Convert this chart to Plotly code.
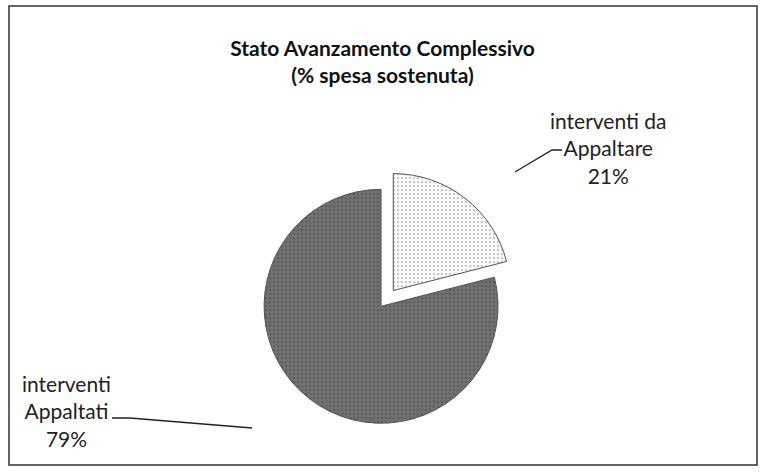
import plotly.graph_objects as go

labels = ["interventi da Appaltare", "interventi Appaltati"]
label_lines = [["interventi da", "Appaltare"], ["interventi", "Appaltati"]]
values = [21, 79]
title_lines = ["Stato Avanzamento Complessivo", "(% spesa sostenuta)"]

total = sum(values)
pcts = [round(v / total * 100) for v in values]

FONT = "Lato, 'Open Sans', sans-serif"
W, H = 765, 472


def px(x):
    return x / W


def py(y):
    return 1 - y / H


fig = go.Figure()
fig.add_trace(go.Pie(
    labels=labels,
    values=values,
    sort=False,
    direction="clockwise",
    rotation=0,
    pull=[0.15, 0.02],
    textinfo="none",
    hoverinfo="label+percent",
    marker=dict(
        colors=["#f4f4f4", "#6a6a6a"],
        line=dict(color="#555555", width=1),
        pattern=dict(shape=[".", "."], fgcolor=["#9a9a9a", "#4e4e4e"],
                     bgcolor=["#fafafa", "#707070"], size=4, solidity=0.15),
    ),
    domain=dict(x=[0.15, 0.85], y=[0.07, 0.64]),
    showlegend=False,
))

fig.add_annotation(
    text="<br>".join(label_lines[0] + [f"{pcts[0]}%"]),
    x=px(608), y=py(148), xref="paper", yref="paper", showarrow=False,
    xanchor="center", yanchor="middle",
    font=dict(family=FONT, size=21, color="#222"), align="center",
)
fig.add_annotation(
    text="<br>".join(label_lines[1] + [f"{pcts[1]}%"]),
    x=px(66), y=py(411), xref="paper", yref="paper", showarrow=False,
    xanchor="center", yanchor="middle",
    font=dict(family=FONT, size=21, color="#222"), align="center",
)

# leader lines
fig.add_shape(type="path", xref="paper", yref="paper",
              path=f"M {px(562)},{py(150)} L {px(552)},{py(150)} L {px(515)},{py(172)}",
              line=dict(color="#222", width=1.3))
fig.add_shape(type="path", xref="paper", yref="paper",
              path=f"M {px(112)},{py(418)} L {px(130)},{py(418)} L {px(252)},{py(428)}",
              line=dict(color="#222", width=1.3))

fig.add_shape(type="rect", xref="paper", yref="paper",
              x0=px(9), x1=px(757), y0=py(465), y1=py(6),
              line=dict(color="#333", width=1.5))

fig.update_layout(
    width=W, height=H,
    margin=dict(l=0, r=0, t=0, b=0),
    paper_bgcolor="white",
    title=dict(text="<b>" + "<br>".join(title_lines) + "</b>",
               x=0.5, xanchor="center", y=py(56), yanchor="top",
               font=dict(family=FONT, size=21, color="#111")),
)

fig.write_html("out.html", config={"displayModeBar": False},
               post_script="document.body.style.margin='0';")
